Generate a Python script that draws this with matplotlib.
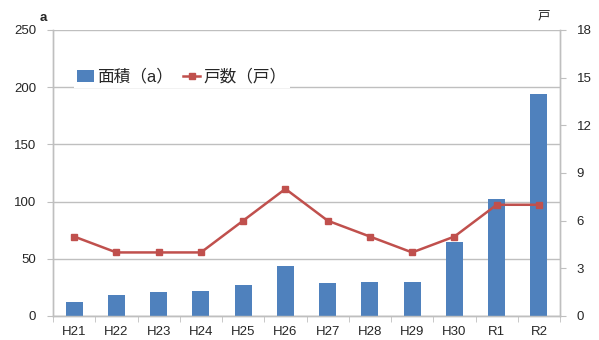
import matplotlib
matplotlib.use('Agg')
import matplotlib.pyplot as plt
import numpy as np

plt.rcParams['font.family'] = ['Liberation Sans', 'Noto Sans CJK JP', 'DejaVu Sans']

years = ['H21', 'H22', 'H23', 'H24', 'H25', 'H26', 'H27', 'H28', 'H29', 'H30', 'R1', 'R2']
area = [12, 18, 21, 22, 27, 44, 29, 30, 30, 65, 102, 194]
households = [5, 4, 4, 4, 6, 8, 6, 5, 4, 5, 7, 7]

bar_color = '#4F81BD'
line_color = '#C0504D'
grid_color = '#BFBFBF'
text_color = '#262626'

fig = plt.figure(figsize=(5.99, 3.40), dpi=100)
ax = fig.add_axes([0.0885, 0.0706, 0.8465, 0.8412])
ax2 = ax.twinx()

x = np.arange(len(years))
bars = ax.bar(x, area, width=0.4, color=bar_color, zorder=3)
line, = ax2.plot(x, households, color=line_color, lw=1.8, marker='s', ms=5, zorder=4)

ax.set_xlim(-0.5, len(years) - 0.5)
ax.set_ylim(0, 250)
ax.set_yticks(np.arange(0, 251, 50))
ax2.set_ylim(0, 18)
ax2.set_yticks(np.arange(0, 19, 3))

ax.set_xticks(x)
ax.set_xticklabels(years)
ax.set_xticks(np.arange(-0.5, len(years), 1), minor=True)
ax.tick_params(axis='x', which='major', length=0, pad=7, labelsize=9.5)
ax.tick_params(axis='x', which='minor', length=4, color=grid_color, direction='out')
ax.tick_params(axis='y', length=4, color=grid_color, labelsize=9.5, pad=8)
ax2.tick_params(axis='y', length=4, color=grid_color, labelsize=9.5, pad=8)
for lab in ax.get_xticklabels() + ax.get_yticklabels() + ax2.get_yticklabels():
    lab.set_color(text_color)

ax.yaxis.grid(True, color=grid_color, lw=1, zorder=0)
ax.set_axisbelow(True)
for a in (ax, ax2):
    a.spines['top'].set_visible(False)
    for s in ('left', 'right', 'bottom'):
        a.spines[s].set_color(grid_color)
        a.spines[s].set_linewidth(1)

ax.text(-0.012, 1.02, 'a', transform=ax.transAxes, ha='right', va='bottom',
        fontsize=9.5, color=text_color, fontweight='bold')
ax2.text(0.98, 1.025, '戸', transform=ax.transAxes, ha='right', va='bottom',
         fontsize=9, color=text_color)

leg = ax2.legend([bars, line], ['面積（a）', '戸数（戸）'], loc='upper left',
                 bbox_to_anchor=(0.025, 0.905), ncol=2, frameon=True, fontsize=12,
                 handlelength=1.0, handletextpad=0.2, columnspacing=0.6,
                 borderpad=0.2, fancybox=False)
leg.get_frame().set_edgecolor('none')
leg.get_frame().set_facecolor('white')
leg.get_frame().set_alpha(1)
for t in leg.get_texts():
    t.set_color(text_color)

fig.savefig('out.png', dpi=100)
